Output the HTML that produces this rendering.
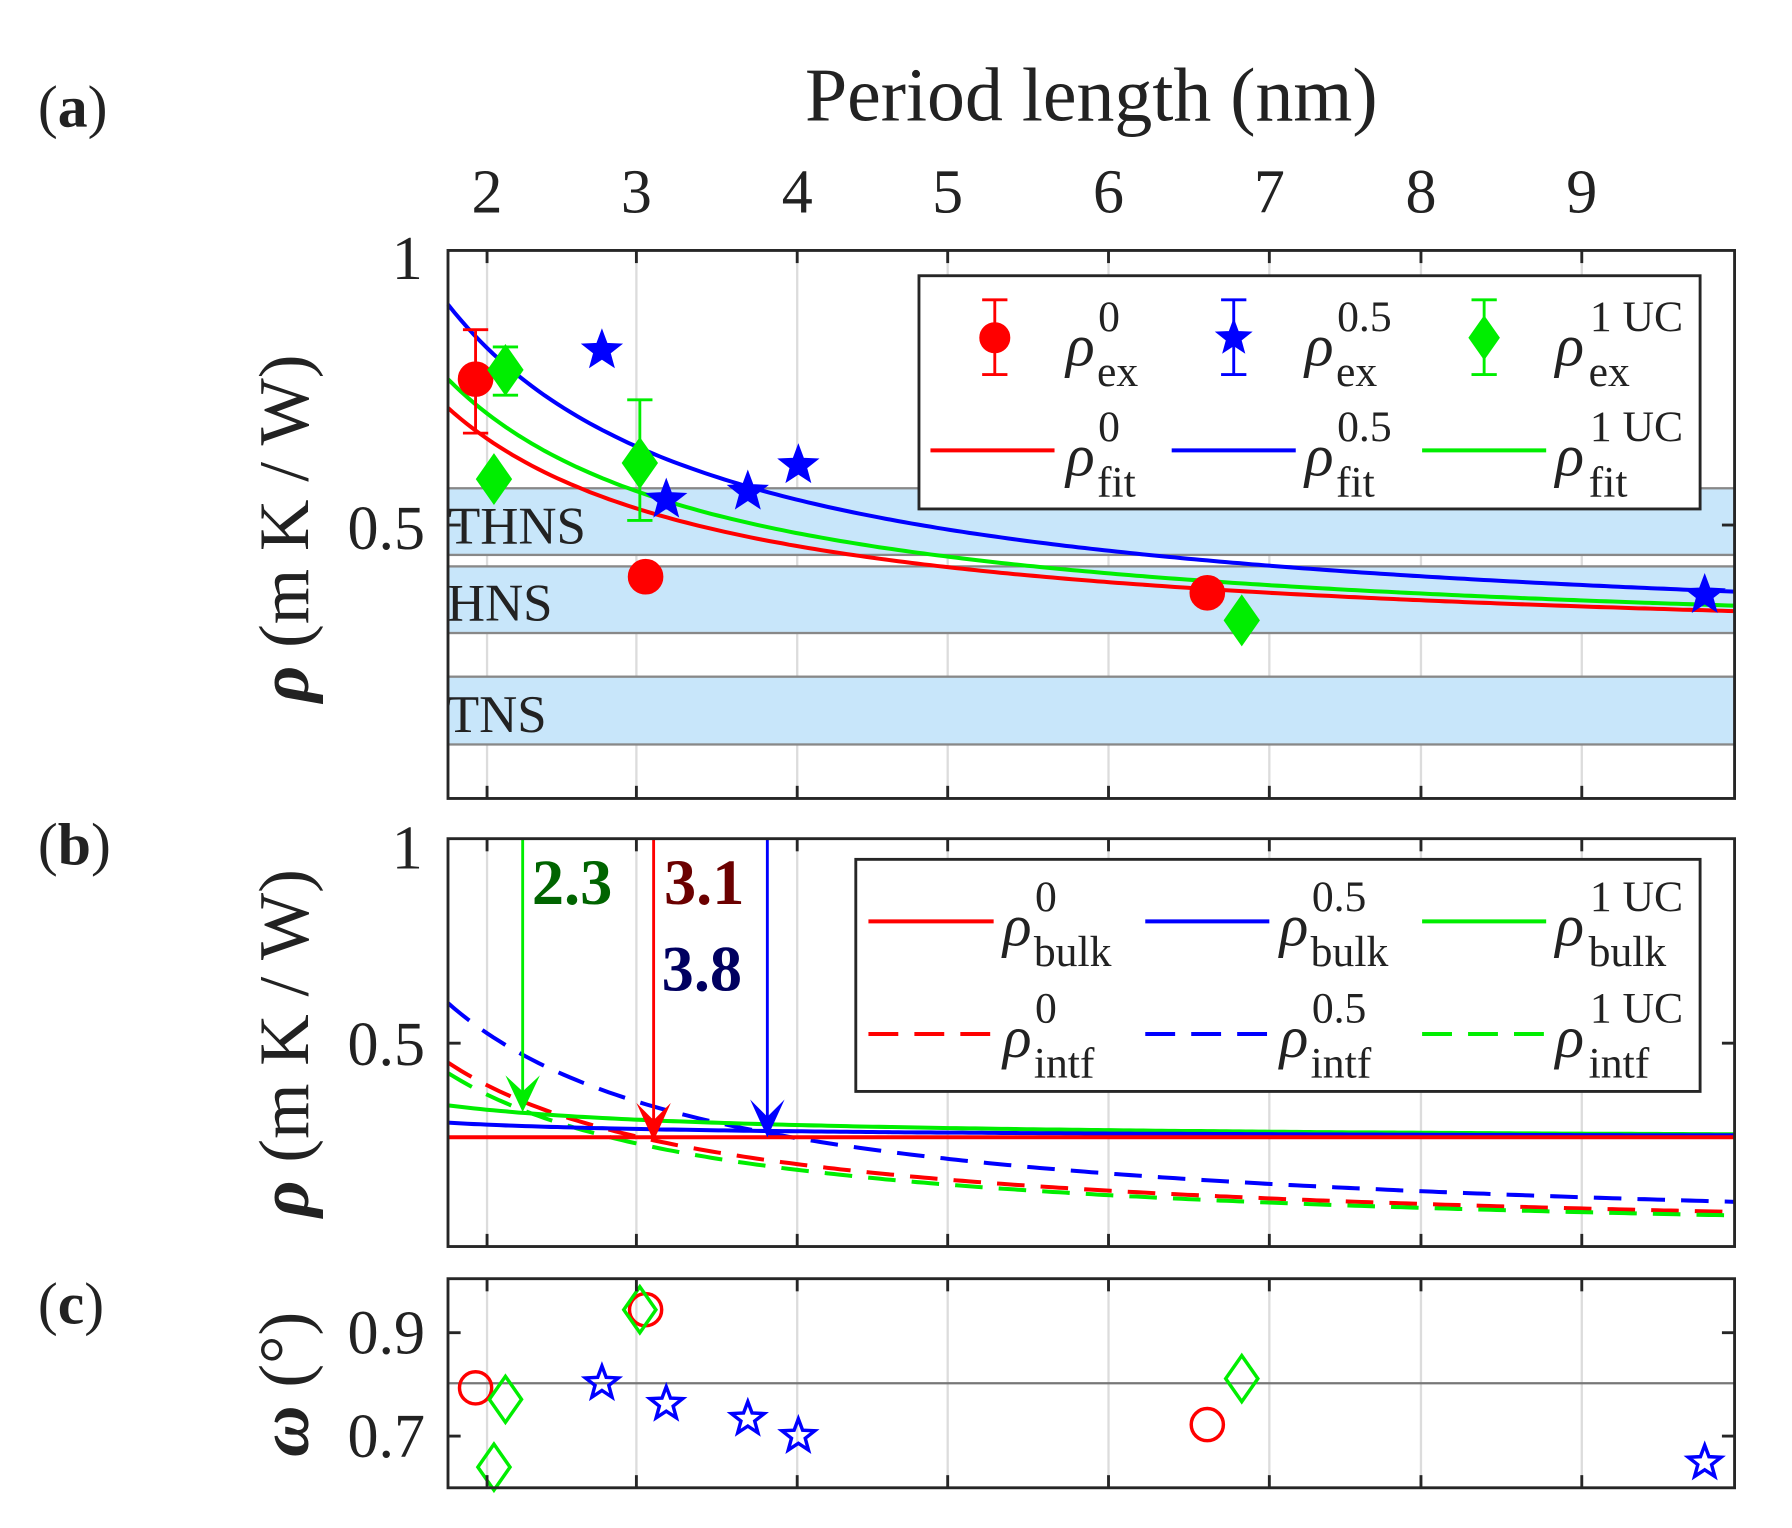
<!DOCTYPE html>
<html><head><meta charset="utf-8"><style>
html,body{margin:0;padding:0;background:#fff}
svg{display:block}
text{font-family:"Liberation Serif",serif;fill:#222}
</style></head><body>
<svg id="s" width="1792" height="1528" viewBox="0 0 1560 1330" preserveAspectRatio="none" xmlns="http://www.w3.org/2000/svg">
<rect width="1560" height="1330" fill="#fff"/>
<g id="grid"></g>
<g fill="#c8e6fa" stroke="#888" stroke-width="2">
<rect x="390" y="425" width="1120" height="58"/>
<rect x="390" y="493" width="1120" height="58"/>
<rect x="390" y="589" width="1120" height="59"/>
</g>
<g font-size="46">
<text x="390" y="473">THNS</text>
<text x="389" y="540">HNS</text>
<text x="389" y="637">TNS</text>
</g>
<g id="curves"></g>
<g id="marks"></g>
<g stroke-width="2.5">
<line x1="455" y1="730" x2="455" y2="960" stroke="#00ee00"/>
<line x1="569" y1="730" x2="569" y2="985" stroke="#ff0000"/>
<line x1="668" y1="730" x2="668" y2="982" stroke="#0000ff"/>
</g>
<path d="M455,968 L440,936 L455,950 L470,936Z" fill="#00ee00"/>
<path d="M569,993 L554,960 L569,975 L584,960Z" fill="#ff0000"/>
<path d="M668,990 L653,957 L668,972 L683,957Z" fill="#0000ff"/>
<g font-size="56" font-weight="bold">
<text x="463" y="787" style="fill:#006400">2.3</text>
<text x="578" y="787" style="fill:#6b0000">3.1</text>
<text x="576" y="862" style="fill:#000060">3.8</text>
</g>
<g fill="none" stroke="#262626" stroke-width="2.5">
<rect x="390" y="218" width="1120" height="477"/>
<rect x="390" y="730" width="1120" height="355"/>
<rect x="390" y="1113" width="1120" height="182"/>
</g>
<g id="ticks" stroke="#262626" stroke-width="2.5"></g>
<text x="950" y="105" font-size="66" text-anchor="middle">Period length (nm)</text>
<g font-size="54" text-anchor="middle">
<text x="424" y="185">2</text><text x="554" y="185">3</text><text x="694" y="185">4</text><text x="825" y="185">5</text><text x="965" y="185">6</text><text x="1105" y="185">7</text><text x="1237" y="185">8</text><text x="1377" y="185">9</text>
</g>
<g font-size="54" text-anchor="end">
<text x="368" y="243">1</text>
<text x="370" y="478">0.5</text>
<text x="368" y="756">1</text>
<text x="370" y="927">0.5</text>
<text x="370" y="1178">0.9</text>
<text x="370" y="1268">0.7</text>
</g>
<g font-size="52">
<text x="33" y="110">(<tspan font-weight="bold">a</tspan>)</text>
<text x="33" y="752">(<tspan font-weight="bold">b</tspan>)</text>
<text x="33" y="1152">(<tspan font-weight="bold">c</tspan>)</text>
</g>
<text transform="translate(268,460) rotate(-90)" font-size="62" text-anchor="middle"><tspan font-style="italic" font-weight="bold">ρ</tspan> (m K / W)</text>
<text transform="translate(268,908) rotate(-90)" font-size="62" text-anchor="middle"><tspan font-style="italic" font-weight="bold">ρ</tspan> (m K / W)</text>
<text transform="translate(268,1205) rotate(-90)" font-size="62" text-anchor="middle"><tspan font-style="italic" font-weight="bold">ω</tspan> (°)</text>
<rect x="800" y="240" width="680" height="203" fill="#fff" stroke="#262626" stroke-width="2.5"/>
<g id="lega"></g>
<g font-size="52">
<text x="928" y="318" font-style="italic">ρ</text><text x="956" y="288" font-size="38">0</text><text x="955" y="336" font-size="38">ex</text>
<text x="1136" y="318" font-style="italic">ρ</text><text x="1164" y="288" font-size="38">0.5</text><text x="1163" y="336" font-size="38">ex</text>
<text x="1354" y="318" font-style="italic">ρ</text><text x="1384" y="288" font-size="38">1 UC</text><text x="1383" y="336" font-size="38">ex</text>
<text x="928" y="414" font-style="italic">ρ</text><text x="956" y="384" font-size="38">0</text><text x="955" y="432" font-size="38">fit</text>
<text x="1136" y="414" font-style="italic">ρ</text><text x="1164" y="384" font-size="38">0.5</text><text x="1163" y="432" font-size="38">fit</text>
<text x="1354" y="414" font-style="italic">ρ</text><text x="1384" y="384" font-size="38">1 UC</text><text x="1383" y="432" font-size="38">fit</text>
</g>
<rect x="745" y="748" width="735" height="202" fill="#fff" stroke="#262626" stroke-width="2.5"/>
<g stroke-width="3.5">
<line x1="756" y1="802" x2="865" y2="802" stroke="#ff0000"/>
<line x1="997" y1="802" x2="1105" y2="802" stroke="#0000ff"/>
<line x1="1238" y1="802" x2="1346" y2="802" stroke="#00ee00"/>
<line x1="756" y1="900" x2="865" y2="900" stroke="#ff0000" stroke-dasharray="26,14"/>
<line x1="997" y1="900" x2="1105" y2="900" stroke="#0000ff" stroke-dasharray="26,14"/>
<line x1="1238" y1="900" x2="1346" y2="900" stroke="#00ee00" stroke-dasharray="26,14"/>
</g>
<g font-size="52">
<text x="873" y="823" font-style="italic">ρ</text><text x="901" y="793" font-size="38">0</text><text x="900" y="841" font-size="38">bulk</text>
<text x="1114" y="823" font-style="italic">ρ</text><text x="1142" y="793" font-size="38">0.5</text><text x="1141" y="841" font-size="38">bulk</text>
<text x="1354" y="823" font-style="italic">ρ</text><text x="1384" y="793" font-size="38">1 UC</text><text x="1383" y="841" font-size="38">bulk</text>
<text x="873" y="920" font-style="italic">ρ</text><text x="901" y="890" font-size="38">0</text><text x="900" y="938" font-size="38">intf</text>
<text x="1114" y="920" font-style="italic">ρ</text><text x="1142" y="890" font-size="38">0.5</text><text x="1141" y="938" font-size="38">intf</text>
<text x="1354" y="920" font-style="italic">ρ</text><text x="1384" y="890" font-size="38">1 UC</text><text x="1383" y="938" font-size="38">intf</text>
</g>
<script>
var NS="http://www.w3.org/2000/svg";
function el(p,t,a){var e=document.createElementNS(NS,t);for(var k in a)e.setAttribute(k,a[k]);p.appendChild(e);return e;}
var X=function(p){return 424+136.1*(p-2);};
var grid=document.getElementById('grid'),ticks=document.getElementById('ticks');
var gx=[424,554,694,825,965,1105,1237,1377];
var panels=[[218,695],[730,1085],[1113,1295]];
panels.forEach(function(pp){gx.forEach(function(x){el(grid,'line',{x1:x,y1:pp[0],x2:x,y2:pp[1],stroke:'#dcdcdc','stroke-width':2});
el(ticks,'line',{x1:x,y1:pp[0],x2:x,y2:pp[0]+11});el(ticks,'line',{x1:x,y1:pp[1],x2:x,y2:pp[1]-11});});});
[[457],[908],[1160,1250]].forEach(function(ys){ys.forEach(function(y){el(ticks,'line',{x1:390,y1:y,x2:401,y2:y});el(ticks,'line',{x1:1510,y1:y,x2:1499,y2:y});});});
el(grid,'line',{x1:390,y1:1204,x2:1510,y2:1204,stroke:'#777','stroke-width':2});
var cv=document.getElementById('curves');
function curve(A,B,y0,sc,col,dash){var d='';for(var i=0;i<=200;i++){var p=1.75+(9.98-1.75)*i/200;var v=A+B/p;d+=(i?'L':'M')+X(p).toFixed(1)+','+(y0-sc*v).toFixed(1);}
var a={d:d,fill:'none',stroke:col,'stroke-width':3.5};if(dash)a['stroke-dasharray']='24,14';el(cv,'path',a);}
curve(0.263,0.787,695,477,'#ff0000');curve(0.264,0.877,695,477,'#00ee00');curve(0.266,1.112,695,477,'#0000ff');
curve(0.006,1.034,1085,355,'#0000ff',1);curve(0.007,0.777,1085,355,'#ff0000',1);curve(0.002,0.741,1085,355,'#00ee00',1);
curve(0.26,0.151,1085,355,'#00ee00');curve(0.266,0.0658,1085,355,'#0000ff');curve(0.268,0,1085,355,'#ff0000');
var mk=document.getElementById('marks');
function star(x,y,r,col,fill){var d='';for(var i=0;i<10;i++){var rr=i%2?r*0.42:r;var a=-Math.PI/2+i*Math.PI/5;d+=(i?'L':'M')+(x+rr*Math.cos(a)).toFixed(1)+','+(y+rr*Math.sin(a)).toFixed(1);}
el(mk,'path',{d:d+'Z',fill:fill?col:'none',stroke:col,'stroke-width':3});}
function dia(x,y,r,col,fill){el(mk,'path',{d:'M'+x+','+(y-r)+'L'+(x+r*0.7)+','+y+'L'+x+','+(y+r)+'L'+(x-r*0.7)+','+y+'Z',fill:fill?col:'none',stroke:col,'stroke-width':3});}
function circ(x,y,r,col,fill){el(mk,'circle',{cx:x,cy:y,r:r,fill:fill?col:'none',stroke:col,'stroke-width':3});}
function eb(x,y1,y2,col){el(mk,'line',{x1:x,y1:y1,x2:x,y2:y2,stroke:col,'stroke-width':2.5});el(mk,'line',{x1:x-11,y1:y1,x2:x+11,y2:y1,stroke:col,'stroke-width':2.5});el(mk,'line',{x1:x-11,y1:y2,x2:x+11,y2:y2,stroke:col,'stroke-width':2.5});}
eb(414,287,377,'#ff0000');eb(440,302,344,'#00ee00');eb(557,348,453,'#00ee00');
[[414,330],[562,502],[1051,516]].forEach(function(p){circ(p[0],p[1],14,'#ff0000',1);});
[[524,305],[580,435],[651,428],[695,405],[1484,518]].forEach(function(p){star(p[0],p[1],15,'#0000ff',1);});
[[440,322],[430,417],[557,403],[1081,540]].forEach(function(p){dia(p[0],p[1],20,'#00ee00',1);});
[[414,1208],[562,1140],[1051,1240]].forEach(function(p){circ(p[0],p[1],14,'#ff0000',0);});
[[440,1218],[430,1277],[557,1140],[1081,1200]].forEach(function(p){dia(p[0],p[1],20,'#00ee00',0);});
[[524,1204],[580,1222],[651,1235],[695,1250],[1484,1273]].forEach(function(p){star(p[0],p[1],15,'#0000ff',0);});
var lg=document.getElementById('lega');mk=lg;
eb(866,261,326,'#ff0000');circ(866,294,12,'#ff0000',1);
eb(1074,261,326,'#0000ff');star(1074,294,13,'#0000ff',1);
eb(1292,261,326,'#00ee00');dia(1292,294,17,'#00ee00',1);
el(lg,'line',{x1:810,y1:392,x2:918,y2:392,stroke:'#ff0000','stroke-width':3.5});
el(lg,'line',{x1:1020,y1:392,x2:1128,y2:392,stroke:'#0000ff','stroke-width':3.5});
el(lg,'line',{x1:1238,y1:392,x2:1346,y2:392,stroke:'#00ee00','stroke-width':3.5});
</script>
</svg>
</body></html>
